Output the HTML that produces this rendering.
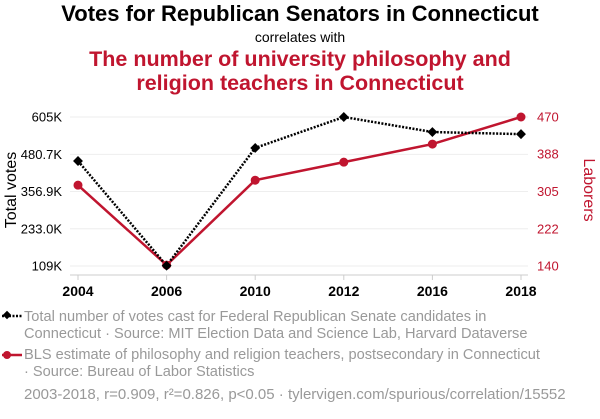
<!DOCTYPE html>
<html><head><meta charset="utf-8">
<style>
body{margin:0;background:#fff;font-family:"Liberation Sans",sans-serif;}
svg text{font-family:"Liberation Sans",sans-serif;}
</style></head>
<body>
<svg width="600" height="414" xmlns="http://www.w3.org/2000/svg">
<text x="300" y="21" text-anchor="middle" font-size="22" font-weight="bold" fill="#000">Votes for Republican Senators in Connecticut</text>
<text x="300" y="42" text-anchor="middle" font-size="14" fill="#000">correlates with</text>
<text x="300" y="66" text-anchor="middle" font-size="21.5" font-weight="bold" fill="#c0152f">The number of university philosophy and</text>
<text x="300" y="90" text-anchor="middle" font-size="21.5" font-weight="bold" fill="#c0152f">religion teachers in Connecticut</text>
<g id="grid"></g>
<g id="axes"></g>
<g id="series"></g>
<text transform="translate(16,190) rotate(-90)" text-anchor="middle" font-size="16" fill="#000">Total votes</text>
<text transform="translate(584,190) rotate(90)" text-anchor="middle" font-size="16" fill="#c0152f">Laborers</text>
<g>
<line x1="2" y1="316" x2="22" y2="316" stroke="#000" stroke-width="2.5" stroke-dasharray="2,1.5"/>
<rect x="4" y="312" width="6" height="6" transform="rotate(45 7 315)" fill="#000"/>
<text x="24" y="321" font-size="14.6" fill="#999">Total number of votes cast for Federal Republican Senate candidates in</text>
<text x="24" y="338" font-size="14.6" fill="#999">Connecticut · Source: MIT Election Data and Science Lab, Harvard Dataverse</text>
</g>
<g>
<line x1="2" y1="355" x2="22" y2="355" stroke="#c0152f" stroke-width="2.5"/>
<circle cx="7" cy="355" r="4" fill="#c0152f"/>
<text x="24" y="359" font-size="14.6" fill="#999">BLS estimate of philosophy and religion teachers, postsecondary in Connecticut</text>
<text x="24" y="376" font-size="14.6" fill="#999">· Source: Bureau of Labor Statistics</text>
</g>
<text x="24" y="399" font-size="15" fill="#999">2003-2018, r=0.909, r²=0.826, p&lt;0.05 · tylervigen.com/spurious/correlation/15552</text>
</svg>
<script>
const years=["2004","2006","2010","2012","2016","2018"];
const votes=[458.5,110,502,605,555,548];
const teachers=[319,142,330,370,410,470];
const leftTicks=["605K","480.7K","356.9K","233.0K","109K"];
const leftTickVals=[605,480.7,356.9,233.0,109];
const rightTicks=["470","388","305","222","140"];
const rightTickVals=[470,388,305,222,140];
const NS="http://www.w3.org/2000/svg";
function x(i){return 78+i*(521-78)/(years.length-1);}
function yL(v){return 266-(v-109)/(605-109)*149;}
function yR(v){return 266-(v-140)/(470-140)*149;}
function mk(t,a,p){const e=document.createElementNS(NS,t);for(const k in a)e.setAttribute(k,a[k]);p.appendChild(e);return e;}
const grid=document.getElementById('grid'),axes=document.getElementById('axes'),ser=document.getElementById('series');
leftTickVals.forEach((v,i)=>{
 const g=mk('line',{x1:70,x2:528,y1:yL(v),y2:yL(v),stroke:'#eee','stroke-width':1},grid);
 
 
 const t=mk('text',{x:62,y:yL(v)+4.5,'text-anchor':'end','font-size':13,fill:'#000'},axes);
 t.textContent=leftTicks[i];
 
 
});
rightTickVals.forEach((v,i)=>{
 const t=mk('text',{x:537,y:yR(v)+4.5,'font-size':13,fill:'#c0152f'},axes);
 t.textContent=rightTicks[i];
 
 
});
const ax=mk('line',{x1:70,x2:528,y1:275,y2:275,stroke:'#ccc','stroke-width':1},axes);


years.forEach((yr,i)=>{
 mk('line',{x1:x(i),x2:x(i),y1:275,y2:280,stroke:'#ccc'},axes);
 const t=mk('text',{x:x(i),y:296,'text-anchor':'middle','font-size':14,'font-weight':'bold',fill:'#000'},axes);
 t.textContent=yr;
 
 
});
const rl=mk('polyline',{points:teachers.map((v,i)=>x(i)+','+yR(v)).join(' '),fill:'none',stroke:'#c0152f','stroke-width':2.5},ser);


const bl=mk('polyline',{points:votes.map((v,i)=>x(i)+','+yL(v)).join(' '),fill:'none',stroke:'#000','stroke-width':2.5,'stroke-dasharray':'2,1.5'},ser);


teachers.forEach((v,i)=>{
 const c=mk('circle',{cx:x(i),cy:yR(v),r:4.5,fill:'#c0152f'},ser);
 
 
});
votes.forEach((v,i)=>{
 const cx=x(i),cy=yL(v);
 const r=mk('rect',{x:cx-3.5,y:cy-3.5,width:7,height:7,fill:'#000',transform:`rotate(45 ${cx} ${cy})`},ser);
 
 
});
</script>
</body></html>
